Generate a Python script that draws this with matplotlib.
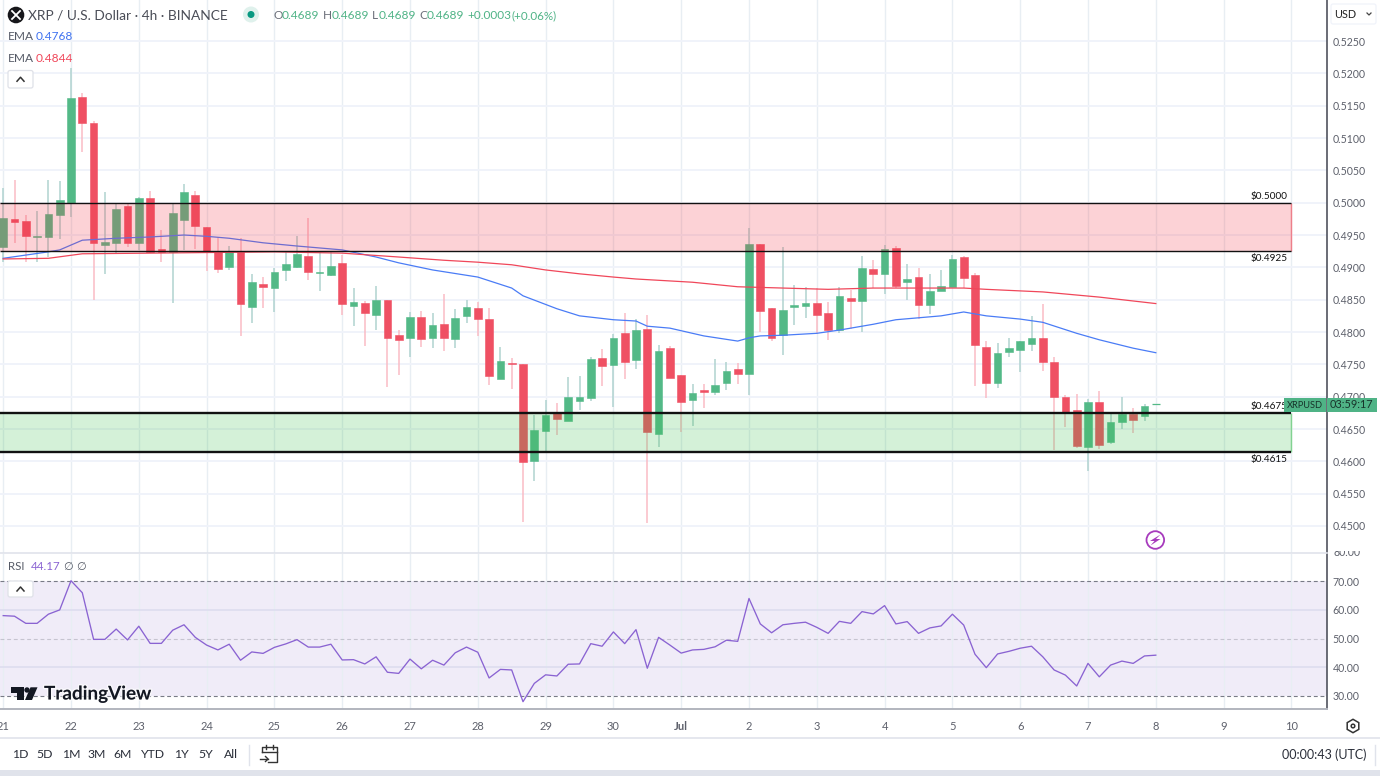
import matplotlib
matplotlib.use("Agg")
import matplotlib.pyplot as plt
import matplotlib.patheffects as pe
from matplotlib.patches import Rectangle, Polygon, Circle, FancyBboxPatch, RegularPolygon

plt.rcParams['font.family'] = ['Lato', 'DejaVu Sans']

opens = [.4931,.4975,.4972,.4947,.4947,.4981,.5000,.5163,.5123,.4935,.4938,.4995,.4938,.5007,.4928,.4924,.4973,.5012,.4962,.4924,
         .4901,.4924,.4839,.4874,.4868,.4896,.4901,.4918,.4891,.4888,.4907,.4840,.4845,.4826,.4850,.4795,.4791,.4823,.4791,.4812,
         .4789,.4825,.4837,.4820,.4727,.4752,.4751,.4601,.4647,.4676,.4662,.4693,.4698,.4760,.4749,.4798,.4757,.4805,.4642,.4775,
         .4734,.4695,.4710,.4707,.4721,.4743,.4735,.4936,.4837,.4795,.4839,.4840,.4845,.4829,.4803,.4853,.4848,.4897,.4890,.4930,
         .4877,.4885,.4842,.4863,.4870,.4916,.4888,.4777,.4721,.4769,.4772,.4781,.4791,.4754,.4700,.4679,.4622,.4692,.4630,.4661,
         .4673,.4670,.4689]
highs = [.5023,.5035,.4981,.4987,.5035,.5034,.5208,.5170,.5126,.5017,.5000,.5000,.5009,.5018,.4958,.4998,.5029,.5018,.4962,.4947,
         .4933,.4945,.4890,.4885,.4899,.4924,.4948,.4976,.4924,.4924,.4919,.4868,.4848,.4871,.4850,.4803,.4831,.4832,.4829,.4859,
         .4836,.4850,.4846,.4837,.4777,.4760,.4751,.4672,.4695,.4690,.4730,.4732,.4761,.4774,.4797,.4829,.4820,.4826,.4780,.4778,
         .4734,.4720,.4720,.4758,.4754,.4752,.4961,.4936,.4837,.4931,.4873,.4870,.4868,.4846,.4870,.4865,.4918,.4911,.4935,.4933,
         .4905,.4899,.4890,.4896,.4919,.4918,.4891,.4786,.4783,.4791,.4786,.4825,.4843,.4761,.4703,.4704,.4696,.4709,.4673,.4700,
         .4683,.4689,.4689]
lows = [.4908,.4938,.4908,.4908,.4916,.4944,.4978,.5078,.4850,.4890,.4922,.4931,.4927,.4922,.4908,.4845,.4927,.4928,.4894,.4891,
        .4896,.4794,.4814,.4837,.4831,.4879,.4899,.4880,.4863,.4887,.4826,.4809,.4778,.4803,.4715,.4734,.4761,.4777,.4775,.4771,
        .4775,.4814,.4794,.4718,.4727,.4712,.4506,.4570,.4613,.4641,.4662,.4679,.4693,.4716,.4684,.4727,.4743,.4505,.4622,.4729,
        .4645,.4655,.4683,.4703,.4710,.4720,.4703,.4800,.4786,.4764,.4811,.4822,.4797,.4788,.4798,.4805,.4800,.4868,.4859,.4868,
        .4850,.4820,.4828,.4863,.4870,.4868,.4716,.4698,.4713,.4761,.4738,.4771,.4740,.4618,.4653,.4621,.4585,.4619,.4627,.4650,
        .4644,.4662,.4689]
closes = [.4976,.4970,.4948,.4948,.4982,.5004,.5162,.5123,.4938,.4939,.4990,.4938,.5007,.4924,.4924,.4984,.5017,.4964,.4924,.4897,
          .4924,.4843,.4877,.4870,.4893,.4905,.4921,.4893,.4893,.4902,.4843,.4846,.4829,.4850,.4791,.4788,.4823,.4789,.4811,.4791,
          .4822,.4839,.4820,.4732,.4755,.4751,.4599,.4648,.4672,.4665,.4700,.4700,.4758,.4747,.4791,.4754,.4803,.4645,.4771,.4729,
          .4692,.4706,.4707,.4718,.4740,.4735,.4936,.4832,.4791,.4834,.4842,.4845,.4826,.4803,.4856,.4848,.4899,.4890,.4928,.4871,
          .4882,.4842,.4863,.4871,.4913,.4884,.4780,.4721,.4768,.4775,.4786,.4791,.4754,.4700,.4676,.4624,.4692,.4625,.4661,.4673,
          .4664,.4686,.4689]

ema_fast_bars = [0,4,5,7,10,13,16,18,20,23,26,30,33,35,38,42,45,46,49,51,54,56,57,59,62,65,66,67,69,72,74,77,79,83,85,87,90,92,95,97,100,102]
ema_fast = [.4914,.4924,.4927,.4942,.4945,.4947,.4950,.4948,.4945,.4938,.4933,.4927,.4916,.4907,.4896,.4885,.4868,.4856,.4836,.4825,.4819,.4817,.4809,.4806,.4794,.4786,.4791,.4794,.4795,.4798,.4803,.4812,.4819,.4825,.4831,.4825,.4820,.4815,.4798,.4788,.4775,.4768]
ema_slow_bars = [0,4,7,13,24,30,35,39,42,45,48,51,54,56,61,65,69,73,77,85,87,92,97,102]
ema_slow = [.4913,.4914,.4921,.4922,.4924,.4922,.4916,.4911,.4908,.4904,.4896,.4890,.4885,.4882,.4877,.4870,.4868,.4866,.4868,.4868,.4866,.4862,.4854,.4844]

rsi = [58.0,57.8,55.3,55.3,58.5,60.0,70.2,66.0,49.7,49.7,53.3,49.5,54.3,48.3,48.3,52.9,54.8,50.4,47.7,46.0,
       48.0,42.4,45.3,44.8,46.9,48.1,49.6,47.0,47.0,48.0,42.5,42.6,41.1,43.6,38.2,37.8,42.8,39.4,42.4,40.7,
       45.0,47.0,45.2,36.2,39.2,39.0,27.9,34.3,37.3,36.9,41.0,41.1,48.2,47.3,52.3,48.2,53.1,39.6,50.4,47.7,
       44.9,46.0,46.2,47.1,49.4,49.0,64.0,55.1,52.0,54.8,55.3,55.7,53.9,51.8,56.0,55.3,59.4,58.6,61.5,55.1,
       55.9,51.8,53.7,54.4,58.5,54.7,44.5,39.8,44.6,45.5,46.6,47.3,43.6,39.0,37.2,33.4,41.3,36.6,40.7,42.1,
       41.3,43.9,44.17]

price_ticks = [.45,.455,.46,.465,.47,.475,.48,.485,.49,.495,.50,.505,.51,.515,.52,.525]
rsi_ticks = [30,40,50,60,70]
day_labels = ['21','22','23','24','25','26','27','28','29','30','Jul','2','3','4','5','6','7','8','9','10']
zones = [(.4925,.5000,'#f23645','$0.5000','$0.4925',1.0),(.4615,.4675,'#3fc050','$0.4675','$0.4615',1.7)]

W, H = 1380, 776
GREEN, RED = '#53b987', '#ef5063'
GREEN_W, RED_W = '#b0d3d0', '#fabcc5'
GRID = '#f0f3fa'
VGRID = '#e8eef3'
TXT = '#5d606b'
BAR_PX = 11.3
X0 = -3.2 / BAR_PX
X1 = (1327 - 3.2) / BAR_PX

def p2y(px):
    return 0.45 + (526 - px) * 0.005 / 32.33

def axes_px(l, t, r, b):
    return fig.add_axes([l / W, 1 - b / H, (r - l) / W, (b - t) / H])

fig = plt.figure(figsize=(W / 100, H / 100), dpi=100, facecolor='white')

# ---- price pane
ax = axes_px(0, 0, 1327, 553)
ax.set_xlim(X0, X1)
ax.set_ylim(p2y(553), p2y(0))
bars = list(range(len(opens)))
day_ticks = list(range(0, 6 * len(day_labels), 6))
ax.set_xticks(day_ticks)
ax.set_xticklabels([])
ax.set_yticks(price_ticks)
ax.set_yticklabels([f'{v:.4f}' for v in price_ticks], fontsize=7.6, color=TXT)
ax.yaxis.tick_right()
ax.tick_params(length=0, pad=4)
ax.grid(True, axis='y', color=GRID, lw=1.4, zorder=0)
ax.grid(True, axis='x', color=VGRID, lw=1, zorder=0)
ax.set_axisbelow(True)
for s in ax.spines.values():
    s.set_visible(False)
ax.spines['right'].set_visible(True)
ax.spines['right'].set_color('#50535e')
ax.spines['right'].set_linewidth(1.2)

for b, o, h, l, c in zip(bars, opens, highs, lows, closes):
    up = c >= o
    ax.vlines(b, l, h, color=GREEN_W if up else RED_W, lw=1.1, zorder=1)
    if b == bars[-1]:
        ax.hlines(c, b - .35, b + .35, color=GREEN, lw=0.9, zorder=2)
        continue
    ax.bar(b, abs(c - o), bottom=min(o, c), width=0.68, color=GREEN if up else RED,
           edgecolor=GREEN if up else RED, lw=0.4, zorder=2)

ax.plot(ema_fast_bars, ema_fast, color='#4a7cf6', lw=0.9, zorder=3)
ax.plot(ema_slow_bars, ema_slow, color='#f0475a', lw=0.9, zorder=3)

zone_end = 114.0
for lo, hi, col, t1, t2, lw in zones:
    ax.fill_between([X0, zone_end], lo, hi, color=col, alpha=0.22, lw=0, zorder=4)
    ax.vlines(zone_end, lo, hi, color=col, lw=1, alpha=.6, zorder=4)
    ax.hlines([lo, hi], X0, zone_end, color='#111111', lw=lw, zorder=5)
    ax.text(zone_end - .35, hi + 0.00098, t1, ha='right', va='center', fontsize=7.2, color='#111111', zorder=6)
    ax.text(zone_end - .35, lo - 0.00118, t2, ha='right', va='center', fontsize=7.2, color='#111111', zorder=6)

# ---- RSI pane
rx = axes_px(0, 554, 1327, 709)
rx.set_xlim(X0, X1)
rx.set_ylim(30 - 13.3 / 2.86, 70 + 27.3 / 2.86)
rx.axhspan(30, 70, color='#7e57c2', alpha=0.11, lw=0, zorder=0)
rx.plot(bars, rsi, color='#8a63d2', lw=0.95, zorder=3)
for v in (30, 70):
    rx.axhline(v, color='#787b86', lw=0.8, ls=(0, (3.5, 2.5)), zorder=2)
rx.axhline(50, color='#787b86', lw=0.8, ls=(0, (3.5, 2.5)), alpha=.35, zorder=2)
for v in (40, 60):
    rx.axhline(v, color='#dcdcee', lw=1.1, zorder=1)
rx.set_xticks(day_ticks)
rx.set_xticklabels(day_labels, fontsize=8, color=TXT)
rx.get_xticklabels()[day_labels.index('Jul')].set_fontweight('bold')
rx.set_yticks(rsi_ticks)
rx.set_yticklabels([f'{v:.2f}' for v in rsi_ticks], fontsize=7.6, color=TXT)
rx.yaxis.tick_right()
rx.tick_params(axis='y', length=0, pad=4)
rx.tick_params(axis='x', length=0, pad=8.5)
rx.grid(True, axis='x', color=VGRID, lw=1, zorder=0)
rx.set_axisbelow(True)
for s in rx.spines.values():
    s.set_visible(False)
rx.spines['right'].set_visible(True)
rx.spines['right'].set_color('#50535e')
rx.spines['right'].set_linewidth(1.2)
rx.spines['bottom'].set_visible(True)
rx.spines['bottom'].set_color('#b2b5be')
rx.spines['bottom'].set_linewidth(1.4)

# ---- interface layer, in pixel coordinates
ov = fig.add_axes([0, 0, 1, 1], zorder=20)
ov.set_xlim(0, W)
ov.set_ylim(H, 0)
ov.axis('off')
ov.patch.set_alpha(0)

def T(x, y, s, size=8.3, color=TXT, ha='left', va='center', **kw):
    return ov.text(x, y, s, fontsize=size, color=color, ha=ha, va=va, **kw)

def chevron_button(x0, y0, x1, y1):
    ov.add_patch(FancyBboxPatch((x0 + 2, y0 + 2), x1 - x0 - 4, y1 - y0 - 4, boxstyle='round,pad=2,rounding_size=2',
                                fc='white', ec='#dfe1e8', lw=0.9))
    cx, cy = (x0 + x1) / 2, (y0 + y1) / 2
    ov.plot([cx - 3.5, cx, cx + 3.5], [cy + 2, cy - 2, cy + 2], color='#333333', lw=1.1)

# pane dividers and footer
ov.plot([0, 1327], [553, 553], color='#e0e3eb', lw=1.2)
ov.plot([0, W], [737.5, 737.5], color='#e0e3eb', lw=1.2)
ov.add_patch(Rectangle((0, 770), W, 6, fc='#e0e3eb', ec='none'))

# header
ov.add_patch(Circle((16, 15), 8.3, fc='#16161a', ec='none'))
ov.plot([12, 20], [11, 19], color='white', lw=1.3)
ov.plot([12, 20], [19, 11], color='white', lw=1.3)
T(28, 15, 'XRP / U.S. Dollar · 4h · BINANCE', size=9.9, color='#4a4d57')
ov.add_patch(Circle((251, 14.5), 8, fc='#dff1ec', ec='none'))
ov.add_patch(Circle((251, 14.5), 3.5, fc='#089981', ec='none'))
OHLC_G = '#4fb386'
for xl, xv, l in [(273, 282, 'O'), (323, 332, 'H'), (372, 379, 'L'), (419, 427, 'C')]:
    T(xl, 15.5, l, size=8.6, color='#6a6d78')
    T(xv, 15.5, '0.4689', size=8.6, color=OHLC_G)
T(467, 15.5, '+0.0003', size=8.5, color=OHLC_G)
T(512, 15.5, '(+0.06%)', size=8.4, color=OHLC_G)
T(8, 36, 'EMA', size=8.6, color='#555a66')
T(36, 36, '0.4768', size=8.6, color='#3f72f0')
T(8, 58, 'EMA', size=8.6, color='#555a66')
T(36, 58, '0.4844', size=8.6, color='#f0475a')
chevron_button(8, 70.5, 33, 88)
T(8, 567, 'RSI', size=8.3, color='#555a66')
T(31, 567, '44.17', size=8.3, color='#8a63d2')
T(63, 567, '∅', size=8, color='#555a66', family=['DejaVu Sans'])
T(76, 567, '∅', size=8, color='#555a66', family=['DejaVu Sans'])
chevron_button(8, 581, 33, 597)

# USD button
ov.add_patch(FancyBboxPatch((1333, 6), 41, 16, boxstyle='round,pad=2,rounding_size=2', fc='white', ec='#f0f3fa', lw=0.9))
T(1334, 15, 'USD', size=7.8, color='#222222')
ov.plot([1367, 1369, 1371], [13, 15, 13], color='#444444', lw=0.9)

# "80.00" half hidden under the price pane
T(1333, 553, '80.00', size=7.6)
ov.add_patch(Rectangle((1328.5, 542), 50, 9.2, fc='white', ec='none', zorder=3))

# last price tag
ov.add_patch(Rectangle((1284, 397.5), 42, 14.5, fc='#4fb386', ec='none', zorder=4))
ov.add_patch(Rectangle((1326.5, 397.5), 50, 14.5, fc='#4fb386', ec='none', zorder=4))
T(1305, 405, 'XRPUSD', size=6.7, color='#17332a', ha='center', zorder=5)
T(1351.5, 405, '03:59:17', size=7.8, color='#17332a', ha='center', zorder=5)

# lightning badge
ov.add_patch(Circle((1155.3, 540), 8.8, fc='white', ec='#a73bbd', lw=1.3))
ov.add_patch(Polygon([(1160.5, 534.5), (1150, 541), (1154.5, 541), (1150.5, 545.5), (1160.5, 539), (1156, 539)],
                     closed=True, fc='#a73bbd', ec='none'))

# TradingView logo
logo = '#131722'
halo = [pe.withStroke(linewidth=2, foreground=(1, 1, 1, .7))]
ov.add_patch(Polygon([(11, 687.3), (23.5, 687.3), (23.5, 700), (17, 700), (17, 692.7), (11, 692.7)], closed=True, fc=logo, ec='none'))
ov.add_patch(Circle((27, 690), 2.7, fc=logo, ec='none'))
ov.add_patch(Polygon([(30.5, 687.3), (37.5, 687.3), (32, 700), (25, 700)], closed=True, fc=logo, ec='none'))
T(44, 694, 'TradingView', size=13.6, color=logo, fontweight='bold', path_effects=halo)

# range buttons
for x, s in [(20, '1D'), (45, '5D'), (71, '1M'), (97, '3M'), (123, '6M'), (153, 'YTD'), (181, '1Y'), (206, '5Y'), (231, 'All')]:
    T(x, 755, s, size=8.8, color='#2a2e39', ha='center')
ov.plot([248.5, 248.5], [745, 765], color='#e0e3eb', lw=1)
# calendar icon
ov.plot([261.5, 261.5, 277, 277, 268], [752, 747, 747, 762, 762], color='#333333', lw=1, solid_joinstyle='round')
ov.plot([261.5, 277], [751.5, 751.5], color='#333333', lw=1)
ov.plot([265.5, 265.5], [745, 749], color='#333333', lw=1)
ov.plot([273, 273], [745, 749], color='#333333', lw=1)
ov.plot([260, 268], [759, 759], color='#333333', lw=1)
ov.plot([265.5, 268, 265.5], [756.5, 759, 761.5], color='#333333', lw=1)
T(1366, 755, '00:00:43 (UTC)', size=9, color='#2a2e39', ha='right')
ov.plot([1374.5, 1374.5], [745, 765], color='#e0e3eb', lw=1)
# settings icon
ov.add_patch(RegularPolygon((1353, 726), 6, radius=6.7, fc='white', ec='#333333', lw=1.1))
ov.add_patch(Circle((1353, 726), 1.8, fc='white', ec='#333333', lw=1.1))

fig.savefig('out.png', dpi=100, facecolor='white')
